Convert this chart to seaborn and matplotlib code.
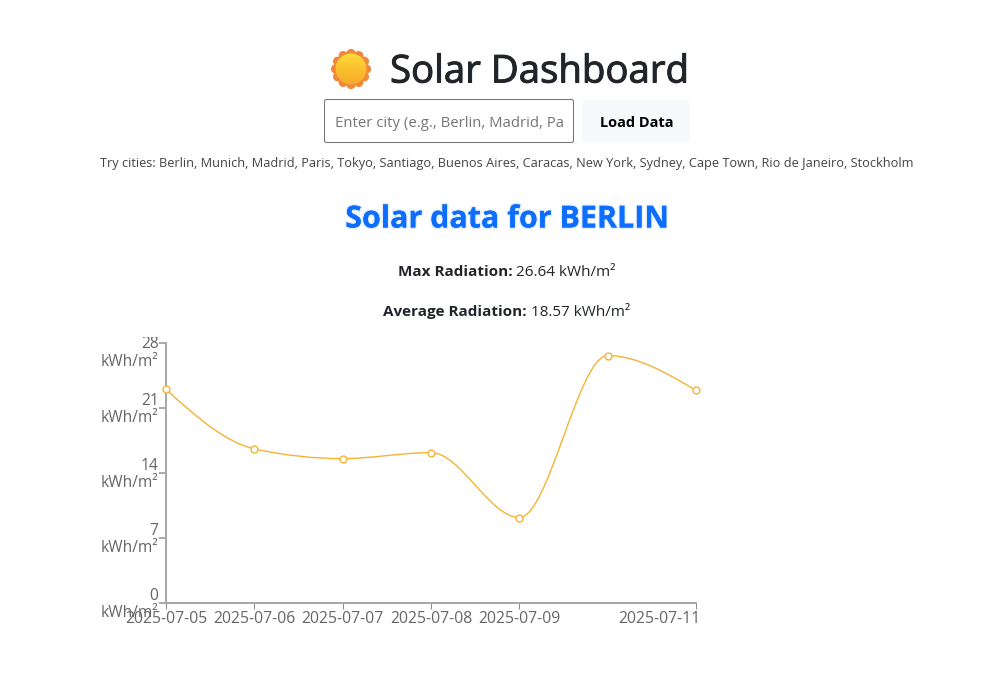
import numpy as np
import pandas as pd
import matplotlib
matplotlib.use("Agg")
import matplotlib.pyplot as plt
import matplotlib.dates as mdates
import matplotlib.patheffects as pe
import seaborn as sns
from matplotlib.path import Path
from matplotlib.patches import PathPatch, Circle, FancyBboxPatch
from matplotlib.transforms import Bbox, ScaledTranslation

# chart values
dates = ['2025-07-05', '2025-07-06', '2025-07-07', '2025-07-08', '2025-07-09', '2025-07-10', '2025-07-11']
radiation = [23.0, 16.6, 15.55, 16.2, 9.2, 26.64, 22.9]
y_ticks = [0, 7, 14, 21, 28]
x_tick_dates = ['2025-07-05', '2025-07-06', '2025-07-07', '2025-07-08', '2025-07-09', '2025-07-11']
cities = ("Try cities: Berlin, Munich, Madrid, Paris, Tokyo, Santiago, Buenos Aires, Caracas, "
          "New York, Sydney, Cape Town, Rio de Janeiro, Stockholm")

W, H = 999, 688
LINE = '#f5b335'
FONT = ['Open Sans', 'DejaVu Sans']

sns.set_theme(style='white')
plt.rcParams['font.family'] = FONT

fig = plt.figure(figsize=(W / 100, H / 100), dpi=100, facecolor='white')

# page layer in pixel coordinates
page = fig.add_axes([0, 0, 1, 1], zorder=0)
page.set_xlim(0, W)
page.set_ylim(H, 0)
page.axis('off')


def px(size):
    return size * 72 / 100


page.text(390, 72.5, 'Solar Dashboard', fontsize=px(38.4), color='#212529', va='center', ha='left',
          path_effects=[pe.withStroke(linewidth=0.7, foreground='#212529')])

# sun emoji
for a in np.arange(0, 2 * np.pi, 2 * np.pi / 12):
    page.add_patch(Circle((351 + 15.5 * np.cos(a), 69 + 15.5 * np.sin(a)), 4.6, color='#f0883a', lw=0))
page.add_patch(Circle((351, 69), 16, color='#f0883a', lw=0))
grad = np.linspace(0, 1, 64).reshape(-1, 1)
cmap = matplotlib.colors.LinearSegmentedColormap.from_list('sun', ['#ffdc3c', '#fbc02d', '#f6a92c'])
img = page.imshow(grad, extent=(335, 367, 85, 53), cmap=cmap, aspect='auto', zorder=3)
img.set_clip_path(Circle((351, 69), 15.5, transform=page.transData))
page.set_xlim(0, W)
page.set_ylim(H, 0)

# form
page.add_patch(FancyBboxPatch((324.5, 99.5), 249, 43, boxstyle='round,pad=0,rounding_size=2',
                              fc='white', ec='#767676', lw=0.75))
page.text(335, 123.5, 'Enter city (e.g., Berlin, Madrid, Pa', fontsize=px(14.93), color='#757575', va='center')
page.add_patch(FancyBboxPatch((582, 100), 108, 42, boxstyle='round,pad=0,rounding_size=4',
                              fc='#f8f9fa', ec='none'))
page.text(636.5, 123, 'Load Data', fontsize=px(14.5), color='black', fontweight='bold', va='center', ha='center')

page.text(507, 164, cities, fontsize=px(12.73), color='#444444', va='center', ha='center')

page.text(507, 219.5, 'Solar data for BERLIN', fontsize=px(30.4), color='#0d6efd', fontweight='bold',
          va='center', ha='center',
          path_effects=[pe.withStroke(linewidth=2, foreground='#0d6efd', alpha=0.12), pe.Normal()])

page.text(512.5, 272, 'Max Radiation:', fontsize=px(15.3), color='#212529', fontweight='bold', va='center', ha='right')
page.text(516, 272, '26.64 kWh/m²', fontsize=px(15.3), color='#212529', va='center', ha='left')
page.text(526.5, 312, 'Average Radiation:', fontsize=px(15.3), color='#212529', fontweight='bold', va='center', ha='right')
page.text(531, 312, '18.57 kWh/m²', fontsize=px(15.3), color='#212529', va='center', ha='left')

# chart
left, right, top, bottom = 166, 696, 343, 603
ax = fig.add_axes([left / W, 1 - bottom / H, (right - left) / W, (bottom - top) / H], zorder=1)
ax.patch.set_alpha(0)

df = pd.DataFrame({'date': pd.to_datetime(dates), 'radiation': radiation})

# monotone curve through the values, as cubic beziers
xs = mdates.date2num(df['date'])
ys = df['radiation'].to_numpy()
h = np.diff(xs)
d = np.diff(ys) / h
m = np.zeros(len(xs))
for i in range(1, len(xs) - 1):
    p = (d[i - 1] * h[i] + d[i] * h[i - 1]) / (h[i - 1] + h[i])
    m[i] = (np.sign(d[i - 1]) + np.sign(d[i])) * min(abs(d[i - 1]), abs(d[i]), 0.5 * abs(p))
m[0] = (3 * d[0] - m[1]) / 2
m[-1] = (3 * d[-1] - m[-2]) / 2
verts = [(xs[0], ys[0])]
codes = [Path.MOVETO]
for i in range(len(xs) - 1):
    verts += [(xs[i] + h[i] / 3, ys[i] + m[i] * h[i] / 3),
              (xs[i + 1] - h[i] / 3, ys[i + 1] - m[i + 1] * h[i] / 3),
              (xs[i + 1], ys[i + 1])]
    codes += [Path.CURVE4] * 3
ax.add_patch(PathPatch(Path(verts, codes), fc='none', ec=LINE, lw=1.0, clip_on=False, zorder=2))

sns.scatterplot(data=df, x='date', y='radiation', ax=ax, s=25, color='white', edgecolor=LINE,
                linewidth=1.0, clip_on=False, zorder=3, legend=False)

ax.set_xlim(df['date'].iloc[0], df['date'].iloc[-1])
ax.set_ylim(0, 28)
ax.set_xlabel('')
ax.set_ylabel('')
sns.despine(ax=ax)
for s in ['left', 'bottom']:
    ax.spines[s].set_color('#a6a6a6')
    ax.spines[s].set_linewidth(1.4)

ax.set_xticks(pd.to_datetime(x_tick_dates))
ax.set_xticklabels(x_tick_dates, fontsize=px(15.75), color='#666666')
ax.set_yticks(y_ticks)
ax.set_yticklabels([f'{v}\nkWh/m²' for v in y_ticks], fontsize=px(15.5), color='#666666',
                   linespacing=1.1, ha='right')
ax.tick_params(axis='x', length=4.5, width=0.7, color='#888888', pad=1.5, bottom=True)
ax.tick_params(axis='y', length=5, width=1.2, color='#999999', pad=0.4, left=True)

# the app nudges the end labels to keep them inside the chart
xl = ax.get_xticklabels()[-1]
xl.set_transform(xl.get_transform() + ScaledTranslation(-37 / 100, 0, fig.dpi_scale_trans))
ylabels = ax.get_yticklabels()
for yl in ylabels[:-1]:
    yl.set_transform(yl.get_transform() + ScaledTranslation(0, 0.8 / 100, fig.dpi_scale_trans))
ylabels[-1].set_transform(ylabels[-1].get_transform() + ScaledTranslation(0, -7.5 / 100, fig.dpi_scale_trans))
ylabels[-1].set_clip_box(Bbox([[0, 0], [W, H - 337]]))
ylabels[-1].set_clip_on(True)

fig.savefig('out.png', dpi=100)
